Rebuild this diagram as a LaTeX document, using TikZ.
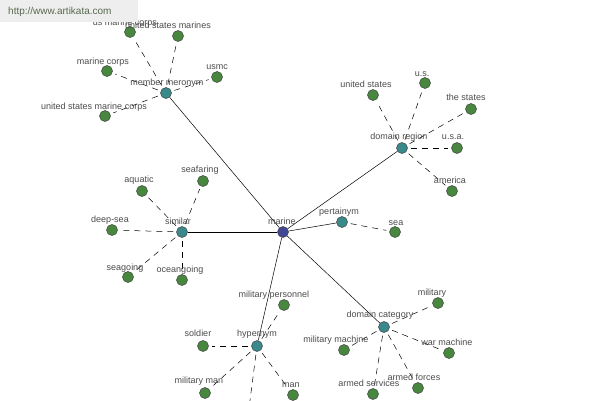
\documentclass[tikz,border=0pt]{standalone}
\usepackage{fontspec}
\setmainfont{Liberation Sans}
\definecolor{hubc}{RGB}{64,72,150}
\definecolor{relc}{RGB}{58,138,140}
\definecolor{leafc}{RGB}{72,136,62}
\definecolor{wmtext}{RGB}{88,104,78}
\definecolor{wmbox}{RGB}{238,238,238}
\begin{document}
\begin{tikzpicture}[x=1pt,y=-1pt,
  dot/.style={circle,draw=black!75,line width=0.5pt,minimum size=11pt,inner sep=0pt},
  hub/.style={dot,fill=hubc},
  rel/.style={dot,fill=relc},
  leaf/.style={dot,fill=leafc},
  lbl/.style={font=\fontsize{9}{10}\selectfont,text=black!70,inner sep=0pt,anchor=base},
  solidlink/.style={draw=black,line width=0.5pt},
  dashlink/.style={draw=black,line width=0.5pt,dash pattern=on 6pt off 5pt,shorten <=3pt,shorten >=3pt}]
\useasboundingbox (0,0) rectangle (600,400);
\clip (0,0) rectangle (600,400);
\fill[white] (0,0) rectangle (600,400);

% hub and relation nodes
\node[hub] (marine) at (283,232) {};
\node[rel] (mm) at (166,93) {};
\node[rel] (dr) at (402,148) {};
\node[rel] (pt) at (342,222) {};
\node[rel] (sim) at (182,232) {};
\node[rel] (hyp) at (257,346) {};
\node[rel] (dc) at (384,327) {};

% leaves
\node[leaf] (usmcorps) at (130,32) {};
\node[leaf] (usmarines) at (178,36) {};
\node[leaf] (mcorps) at (107,71) {};
\node[leaf] (usmc) at (217,77) {};
\node[leaf] (usmarinecorps) at (105,116) {};

\node[leaf] (us) at (373,95) {};
\node[leaf] (uss) at (425,83) {};
\node[leaf] (thestates) at (471,109) {};
\node[leaf] (usa) at (457,148) {};
\node[leaf] (america) at (452,191) {};

\node[leaf] (sea) at (395,232) {};

\node[leaf] (aquatic) at (142,191) {};
\node[leaf] (seafaring) at (203,181) {};
\node[leaf] (deepsea) at (112,230) {};
\node[leaf] (seagoing) at (128,277) {};
\node[leaf] (oceangoing) at (182,280) {};

\node[leaf] (milpers) at (284,305) {};
\node[leaf] (soldier) at (203,346) {};
\node[leaf] (milman) at (205,393) {};
\node[leaf] (man) at (293,395) {};
\node[leaf] (below) at (248,416) {};

\node[leaf] (military) at (438,303) {};
\node[leaf] (milmachine) at (344,350) {};
\node[leaf] (warmachine) at (449,353) {};
\node[leaf] (armedserv) at (373,394) {};
\node[leaf] (armedforces) at (418,388) {};

% links
\foreach \r in {mm,dr,pt,sim,hyp,dc} \draw[solidlink] (marine) -- (\r);
\foreach \l in {usmcorps,usmarines,mcorps,usmc,usmarinecorps} \draw[dashlink] (mm) -- (\l);
\foreach \l in {us,uss,thestates,usa,america} \draw[dashlink] (dr) -- (\l);
\draw[dashlink] (pt) -- (sea);
\foreach \l in {aquatic,seafaring,deepsea,seagoing,oceangoing} \draw[dashlink] (sim) -- (\l);
\foreach \l in {milpers,soldier,milman,man,below} \draw[dashlink] (hyp) -- (\l);
\foreach \l in {military,milmachine,warmachine,armedserv,armedforces} \draw[dashlink] (dc) -- (\l);

% labels
\node[lbl] (t1) at (125,25) {us marine corps};
\node[lbl] (t2) at (168,28) {united states marines};
\node[lbl] (t3) at (103,64) {marine corps};
\node[lbl] (t4) at (217,69) {usmc};
\node[lbl] (t5) at (167,85) {member meronym};
\node[lbl] (t6) at (94,109) {united states marine corps};

\node[lbl] (t7) at (366,87) {united states};
\node[lbl] (t8) at (422,76) {u.s.};
\node[lbl] (t9) at (466,100) {the states};
\node[lbl] (t10) at (399,139) {domain region};
\node[lbl] (t11) at (453,139) {u.s.a.};
\node[lbl] (t12) at (450,183) {america};

\node[lbl] (t13) at (282,224) {marine};
\node[lbl] (t14) at (339,214) {pertainym};
\node[lbl] (t15) at (396,225) {sea};

\node[lbl] (t16) at (200,172) {seafaring};
\node[lbl] (t17) at (139,182) {aquatic};
\node[lbl] (t18) at (110,222) {deep-sea};
\node[lbl] (t19) at (178,224) {similar};
\node[lbl] (t20) at (125,270) {seagoing};
\node[lbl] (t21) at (180,272) {oceangoing};

\node[lbl] (t22) at (274,297) {military personnel};
\node[lbl] (t23) at (198,336) {soldier};
\node[lbl] (t24) at (257,336) {hypernym};
\node[lbl] (t25) at (199,383) {military man};
\node[lbl] (t26) at (291,387) {man};

\node[lbl] (t27) at (432,295) {military};
\node[lbl] (t28) at (380,317) {domain category};
\node[lbl] (t29) at (336,342) {military machine};
\node[lbl] (t30) at (447,345) {war machine};
\node[lbl] (t31) at (369,386) {armed services};
\node[lbl] (t32) at (414,380) {armed forces};

% watermark
\fill[wmbox] (0,0) rectangle (138,22);
\node[font=\fontsize{10}{12}\selectfont,text=wmtext,inner sep=0pt,anchor=west] (wm) at (8,12) {http://www.artikata.com};
\end{tikzpicture}
\end{document}
